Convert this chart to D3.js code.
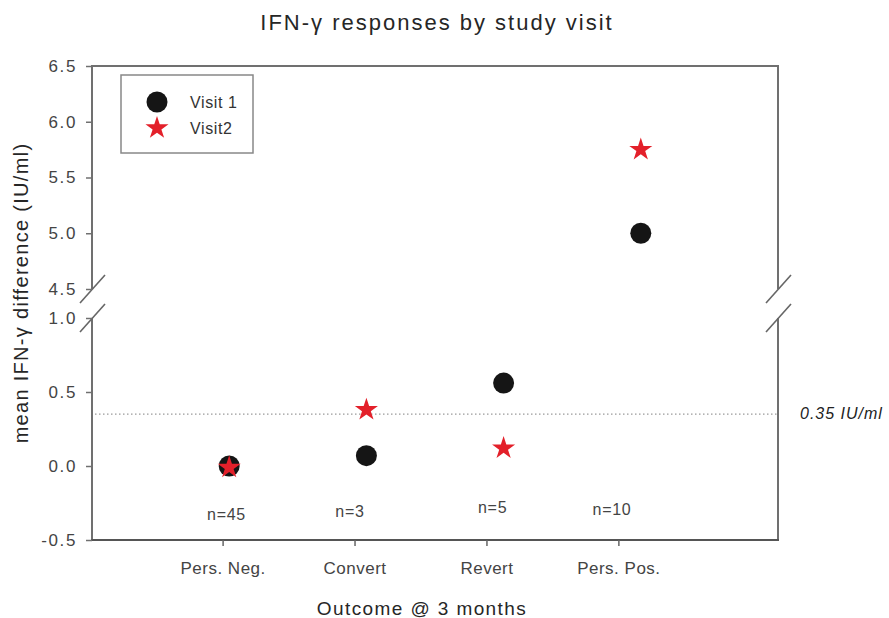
<!DOCTYPE html>
<html>
<head>
<meta charset="utf-8">
<script src="https://cdn.jsdelivr.net/npm/d3@7"></script>
<style>
  html, body { margin: 0; padding: 0; background: #fff; }
  svg { display: block; font-family: "Liberation Sans", Arial, sans-serif; }
</style>
</head>
<body>
<svg id="chart" width="889" height="618"></svg>
<script>
// Outcome groups at 3 months
const categories = ["Pers. Neg.", "Convert", "Revert", "Pers. Pos."];
const groupN = ["n=45", "n=3", "n=5", "n=10"];
// Where each n= note sits, in axis units (x: group index scale, y: IU/ml)
const nLabelX = [0.98, 1.88, 2.92, 3.79];
const nLabelLevel = [-0.33, -0.31, -0.28, -0.29];

// Mean IFN-γ difference (IU/ml) per group
const visit1 = [0.0, 0.07, 0.56, 5.0];
const visit2 = [-0.01, 0.38, 0.12, 5.75];

const cutoff = 0.35;
const lowTicks = [-0.5, 0.0, 0.5, 1.0];
const highTicks = [4.5, 5.0, 5.5, 6.0, 6.5];

const plotLeft = 92, plotRight = 778, plotTop = 66, plotBottom = 540;
const breakLow = 318, breakHigh = 289;

const svg = d3.select("#chart");

// Broken y axis: a piecewise scale with a gap between 1.0 and 4.5
const y = d3.scaleLinear()
  .domain([-0.5, 1.0, 4.5, 6.5])
  .range([plotBottom, breakLow, breakHigh, plotTop]);

// Markers sit at 1..4 on a continuous x axis
const x = d3.scaleLinear().domain([0, 5]).range([plotLeft, plotRight]);
// Category ticks and labels
const xc = d3.scalePoint().domain(categories).range([plotLeft, plotRight]).padding(1.1).align(0.45);

const axisColor = "#707070";
const font = "'Liberation Sans', Arial, sans-serif";
// Plain hyphen for negative tick values
const locale = d3.formatLocale({ decimal: ".", thousands: ",", grouping: [3], currency: ["", ""], minus: "-" });

// Frame: top line, side lines (split at the break), bottom axis
const frame = svg.append("g").attr("fill", "none").attr("stroke", axisColor).attr("stroke-width", 2);
frame.append("line").attr("x1", plotLeft - 1).attr("x2", plotRight + 1).attr("y1", plotTop).attr("y2", plotTop);
[plotLeft, plotRight].forEach(px => {
  frame.append("line").attr("x1", px).attr("x2", px).attr("y1", plotTop).attr("y2", y(4.5));
  frame.append("line").attr("x1", px).attr("x2", px).attr("y1", y(1.0)).attr("y2", plotBottom);
});
svg.append("line").attr("x1", plotLeft - 1).attr("x2", plotRight + 1).attr("y1", plotBottom).attr("y2", plotBottom)
  .attr("stroke", "#555").attr("stroke-width", 2);

// Break marks on both sides
const slashes = svg.append("g").attr("stroke", "#666").attr("stroke-width", 1.6);
[plotLeft, plotRight].forEach(px => {
  [y(4.5), y(1.0)].forEach(py => {
    slashes.append("line")
      .attr("x1", px - 12).attr("y1", py + 14)
      .attr("x2", px + 13).attr("y2", py - 14);
  });
});

// Left axis ticks and labels
const yAxis = d3.axisLeft(y)
  .tickValues(lowTicks.concat(highTicks))
  .tickFormat(locale.format(".1f"))
  .tickSize(6)
  .tickPadding(9);
const gy = svg.append("g").attr("transform", `translate(${plotLeft},0)`).call(yAxis);
gy.select(".domain").remove();
gy.selectAll(".tick line").attr("stroke", axisColor).attr("stroke-width", 1.5);
gy.selectAll(".tick text").attr("fill", "#444").attr("font-size", 17)
  .attr("letter-spacing", 1.6).attr("font-family", font);

// Bottom axis ticks and category labels
const xAxis = d3.axisBottom(xc).tickSize(6).tickPadding(16);
const gx = svg.append("g").attr("transform", `translate(0,${plotBottom})`).call(xAxis);
gx.select(".domain").remove();
gx.selectAll(".tick line").attr("stroke", "#666").attr("stroke-width", 1.5);
gx.selectAll(".tick text").attr("fill", "#444").attr("font-size", 17)
  .attr("letter-spacing", 0.5).attr("font-family", font);

// Cut-off reference line
svg.append("line")
  .attr("x1", plotLeft + 3).attr("x2", plotRight)
  .attr("y1", y(cutoff)).attr("y2", y(cutoff))
  .attr("stroke", "#9a9a9a").attr("stroke-width", 1.2)
  .attr("stroke-dasharray", "1.5,2.5");
svg.append("text")
  .attr("x", plotRight + 22).attr("y", y(cutoff) + 5)
  .attr("font-size", 16).attr("font-style", "italic").attr("fill", "#222")
  .attr("letter-spacing", 1.0)
  .text("0.35 IU/ml");

// Group sizes
svg.append("g").selectAll("text")
  .data(groupN)
  .join("text")
  .attr("x", (d, i) => x(nLabelX[i]))
  .attr("y", (d, i) => y(nLabelLevel[i]))
  .attr("dy", "0.35em")
  .attr("text-anchor", "middle")
  .attr("font-size", 16).attr("letter-spacing", 0.7).attr("fill", "#444")
  .text(d => d);

const star = d3.symbol().type(d3.symbolStar).size(165);
const red = "#e3202a";

// Visit 1 circles
svg.append("g").selectAll("circle")
  .data(visit1)
  .join("circle")
  .attr("cx", (d, i) => x(i + 1))
  .attr("cy", d => y(d))
  .attr("r", 10.5)
  .attr("fill", "#151515");

// Visit 2 stars
svg.append("g").selectAll("path")
  .data(visit2)
  .join("path")
  .attr("d", star)
  .attr("transform", (d, i) => `translate(${x(i + 1)},${y(d)})`)
  .attr("fill", red);

// Legend
const lg = svg.append("g");
lg.append("rect").attr("x", 121).attr("y", 75).attr("width", 132).attr("height", 78)
  .attr("fill", "#fff").attr("stroke", "#888").attr("stroke-width", 1.5);
lg.append("circle").attr("cx", 157).attr("cy", 102).attr("r", 10.5).attr("fill", "#151515");
lg.append("path").attr("d", star).attr("transform", "translate(157,128)").attr("fill", red);
lg.append("text").attr("x", 190).attr("y", 108).attr("font-size", 16).attr("letter-spacing", 0.6)
  .attr("fill", "#333").text("Visit 1");
lg.append("text").attr("x", 190).attr("y", 134).attr("font-size", 16).attr("letter-spacing", 0.6)
  .attr("fill", "#333").text("Visit2");

// Titles
svg.append("text")
  .attr("x", 437).attr("y", 30).attr("text-anchor", "middle")
  .attr("font-size", 22).attr("letter-spacing", 2).attr("fill", "#262626")
  .text("IFN-γ responses by study visit");
svg.append("text")
  .attr("x", 422).attr("y", 615).attr("text-anchor", "middle")
  .attr("font-size", 19).attr("letter-spacing", 1.4).attr("fill", "#262626")
  .text("Outcome @ 3 months");
svg.append("text")
  .attr("transform", "translate(28,293) rotate(-90)")
  .attr("text-anchor", "middle")
  .attr("font-size", 20).attr("letter-spacing", 1.3).attr("fill", "#262626")
  .text("mean IFN-γ difference (IU/ml)");
</script>
</body>
</html>
